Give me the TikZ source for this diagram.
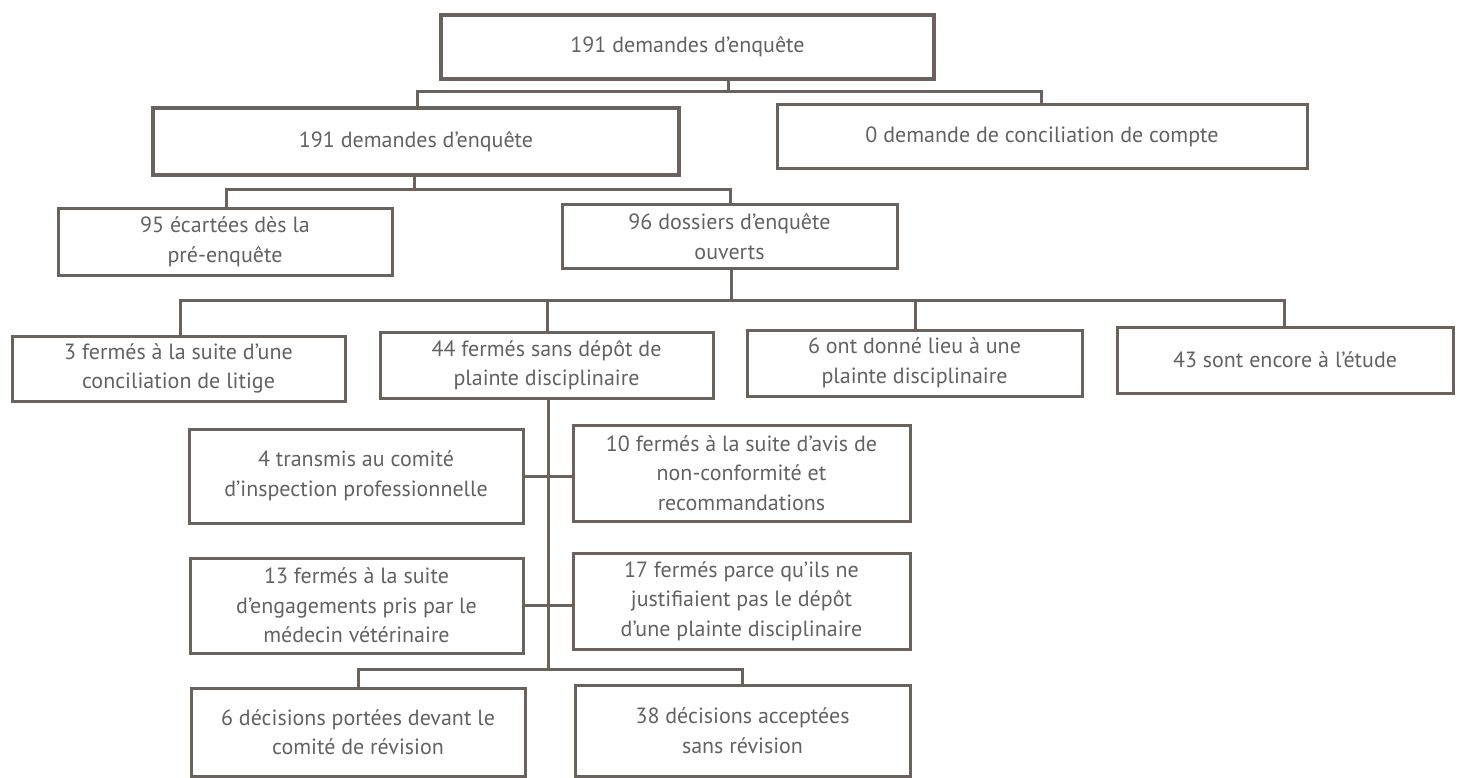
\documentclass[tikz,border=0pt]{standalone}
\usepackage{fontspec}
\setmainfont{PT Sans}
\definecolor{linec}{HTML}{6B625E}
\definecolor{textc}{HTML}{626262}
\tikzset{
  box/.style={draw=linec, line width=3pt, rectangle, inner sep=0pt, align=center,
    text=textc, font=\fontsize{22}{29.5}\selectfont},
  conn/.style={draw=linec, line width=3pt, line cap=rect}
}
\begin{document}
\begin{tikzpicture}[x=1pt,y=-1pt]
\useasboundingbox (0,0) rectangle (1459,778);
% boxes
\node[box, line width=3.6pt, minimum width=493pt, minimum height=64pt] (A) at (687.5,47) {191 demandes d’enquête};
\node[box, line width=3.6pt, minimum width=526pt, minimum height=67pt] (B) at (416,141.5) {191 demandes d’enquête};
\node[box, minimum width=530pt, minimum height=64pt] (C) at (1042,137) {0 demande de conciliation de compte};
\node[box, minimum width=334pt, minimum height=66pt] (D) at (225,242) {95 écartées dès la\\pré-enquête};
\node[box, minimum width=335pt, minimum height=63pt] (E) at (729.5,236.5) {96 dossiers d’enquête\\ouverts};
\node[box, minimum width=333pt, minimum height=65pt] (F) at (178.5,368.5) {3 fermés à la suite d’une\\conciliation de litige};
\node[box, minimum width=333pt, minimum height=66pt] (G) at (546.5,365) {44 fermés sans dépôt de\\plainte disciplinaire};
\node[box, minimum width=335pt, minimum height=66pt] (H) at (914.5,363) {6 ont donné lieu à une\\plainte disciplinaire};
\node[box, minimum width=336pt, minimum height=66pt] (I) at (1285,360) {43 sont encore à l’étude};
\node[box, minimum width=334pt, minimum height=94pt] (J) at (356,476) {4 transmis au comité\\d’inspection professionnelle};
\node[box, minimum width=337pt, minimum height=96pt] (K) at (741.5,473) {10 fermés à la suite d’avis de\\non-conformité et\\recommandations};
\node[box, minimum width=333pt, minimum height=95pt] (L) at (356.5,605.5) {13 fermés à la suite\\d’engagements pris par le\\médecin vétérinaire};
\node[box, minimum width=337pt, minimum height=96pt] (M) at (741.5,601) {17 fermés parce qu’ils ne\\justifiaient pas le dépôt\\d’une plainte disciplinaire};
\node[box, minimum width=334pt, minimum height=88pt] (N) at (358,732) {6 décisions portées devant le\\comité de révision};
\node[box, minimum width=335pt, minimum height=91pt] (O) at (742.5,730.5) {38 décisions acceptées\\sans révision};
% junction coordinates
\coordinate (j1) at (728,92);
\coordinate (j1l) at (417,92);
\coordinate (j1r) at (1041,92);
\coordinate (j2) at (414,190);
\coordinate (j2l) at (226,190);
\coordinate (j2r) at (730,190);
\coordinate (j3) at (731,300);
\coordinate (j3a) at (180,300);
\coordinate (j3b) at (547,300);
\coordinate (j3c) at (915,300);
\coordinate (j3d) at (1284,300);
\coordinate (j4) at (548,669);
\coordinate (j4l) at (358,669);
\coordinate (j4r) at (742,669);
% connectors
\draw[conn] (A.south -| j1) -- (j1);
\draw[conn] (B.north -| j1l) -- (j1l) -- (j1r) -- (C.north -| j1r);
\draw[conn] (B.south -| j2) -- (j2);
\draw[conn] (D.north -| j2l) -- (j2l) -- (j2r) -- (E.north -| j2r);
\draw[conn] (E.south -| j3) -- (j3);
\draw[conn] (F.north -| j3a) -- (j3a) -- (j3d) -- (I.north -| j3d);
\draw[conn] (j3b) -- (G.north -| j3b);
\draw[conn] (j3c) -- (H.north -| j3c);
\draw[conn] (G.south -| j4) -- (j4);
\draw[conn] (J.east) -- (J.east -| K.west);
\draw[conn] (L.east) -- (L.east -| M.west);
\draw[conn] (N.north -| j4l) -- (j4l) -- (j4r) -- (O.north -| j4r);
\end{tikzpicture}
\end{document}
